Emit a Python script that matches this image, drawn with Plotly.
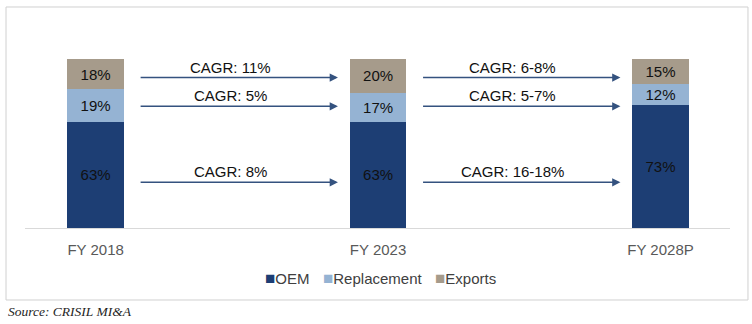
import plotly.graph_objects as go

# ---- data ----
categories = ["FY 2018", "FY 2023", "FY 2028P"]
oem = [63, 63, 73]
replacement = [19, 17, 12]
exports = [18, 20, 15]
series_names = ["OEM", "Replacement", "Exports"]

# CAGR labels between periods: [2018-23, 2023-28P]
cagr_exports = ["CAGR: 11%", "CAGR: 6-8%"]
cagr_replacement = ["CAGR: 5%", "CAGR: 5-7%"]
cagr_oem = ["CAGR: 8%", "CAGR: 16-18%"]
cagr_levels = [89, 72, 27]  # vertical level of the arrows (in % of stack)

source_text = "Source: CRISIL MI&A"

# ---- styling ----
C_OEM = "#1D3E74"
C_REP = "#95B3D3"
C_EXP = "#A69B8B"
C_ARROW = "#34527F"
FONT = "Arial, Liberation Sans, sans-serif"
FS = 15
colors = [C_OEM, C_REP, C_EXP]

fig = go.Figure()
for name, vals, col in zip(series_names, [oem, replacement, exports], colors):
    fig.add_trace(go.Bar(
        x=categories, y=vals, name=name,
        marker=dict(color=col, line=dict(width=0)),
        width=0.2,
        text=[f"{v}%" for v in vals], textposition="inside",
        insidetextanchor="middle", textangle=0,
        textfont=dict(family=FONT, size=FS, color="#111111"),
        hoverinfo="skip", showlegend=False,
    ))

annotations = []
for seg_labels, level in zip([cagr_exports, cagr_replacement, cagr_oem], cagr_levels):
    for i, lab in enumerate(seg_labels):
        x0 = i + 0.154
        x1 = i + 0.858
        annotations.append(dict(
            x=x1, y=level, ax=x0, ay=level, xref="x", yref="y", axref="x", ayref="y",
            text="", showarrow=True, arrowhead=2, arrowsize=1.1, arrowwidth=1.5,
            arrowcolor=C_ARROW,
        ))
        annotations.append(dict(
            x=(x0 + x1) / 2, y=level, xref="x", yref="y", xanchor="center", yanchor="bottom",
            xshift=-8, yshift=0, text=lab, showarrow=False,
            font=dict(family=FONT, size=FS, color="#111111"),
        ))

# custom compact legend
legend_x = [0.3375, 0.4195, 0.5785]
for name, col, lx in zip(series_names, colors, legend_x):
    annotations.append(dict(
        x=lx, y=-0.296, xref="paper", yref="paper", xanchor="left", yanchor="middle",
        text=f'<span style="color:{col};font-size:17px">■</span>{name}', showarrow=False,
        font=dict(family=FONT, size=FS, color="#404040"),
    ))

annotations.append(dict(
    x=-0.027, y=-0.497, xref="paper", yref="paper", xanchor="left", yanchor="middle",
    text=f"<i>{source_text}</i>", showarrow=False,
    font=dict(family="Liberation Serif, Times New Roman, serif", size=13.5, color="#1F1F1F"),
))

fig.update_layout(
    width=752, height=324,
    margin=dict(l=25, r=22, t=59, b=96),
    barmode="stack",
    plot_bgcolor="white", paper_bgcolor="white",
    showlegend=False,
    xaxis=dict(range=[-0.25, 2.246], showline=True, linecolor="#D9D9D9", linewidth=1,
               showgrid=False, zeroline=False, ticks="", ticklabelstandoff=8,
               tickfont=dict(family=FONT, size=FS, color="#595959")),
    yaxis=dict(range=[0, 100], visible=False),
    annotations=annotations,
    shapes=[dict(type="rect", xref="paper", yref="paper", x0=-0.02695, x1=1.0255,
                 y0=-0.426, y1=1.3077, line=dict(color="#D0D0D0", width=1),
                 fillcolor="rgba(0,0,0,0)", layer="below")],
    uniformtext=dict(mode="show", minsize=FS),
)

fig.write_html("out.html")
